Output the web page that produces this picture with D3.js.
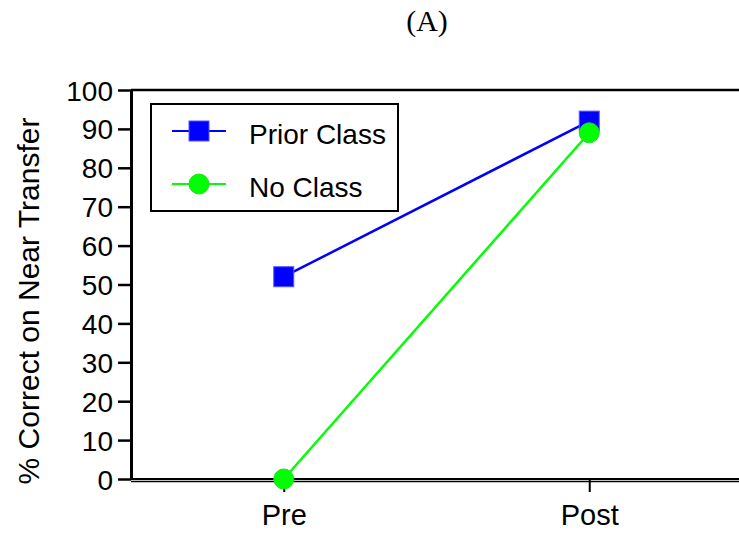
<!DOCTYPE html>
<html>
<head>
<meta charset="utf-8">
<script src="https://cdn.jsdelivr.net/npm/d3@7"></script>
<style>
  html, body { margin: 0; padding: 0; background: #fff; }
  svg { display: block; }
</style>
</head>
<body>
<svg id="chart" width="739" height="535"></svg>
<script>
const categories = ["Pre", "Post"];
const priorClass = [52, 92];
const noClass = [0, 89];
const yTicks = [0, 10, 20, 30, 40, 50, 60, 70, 80, 90, 100];
const seriesNames = ["Prior Class", "No Class"];

const svg = d3.select("#chart");
const W = 739, H = 535;
const x = d3.scalePoint().domain(categories).range([131, 742]).padding(0.5);
const y = d3.scaleLinear().domain([0, 100]).range([479, 90]);
const font = "'Liberation Sans', Arial, Helvetica, sans-serif";

// title
svg.append("text").attr("x", 427).attr("y", 31).attr("text-anchor", "middle")
  .style("font-family", "'Liberation Serif', 'Times New Roman', Times, serif").style("font-size", "30px")
  .text("(A)");

// top frame line
svg.append("line").attr("x1", 131).attr("x2", W).attr("y1", y(100)).attr("y2", y(100))
  .attr("stroke", "#000").attr("stroke-width", 2.5);

// y axis
const yAxis = svg.append("g").attr("transform", "translate(131,0)")
  .call(d3.axisLeft(y).tickValues(yTicks).tickSize(13).tickPadding(5).tickSizeOuter(0));
yAxis.select(".domain").attr("stroke-width", 3);
yAxis.selectAll(".tick line").attr("stroke-width", 2.5);
yAxis.selectAll(".tick text").style("font-family", font).style("font-size", "28px").attr("fill", "#000").attr("dy", "0.36em");

// x axis (double line)
const xAxis = svg.append("g").attr("transform", `translate(0,${y(0)})`)
  .call(d3.axisBottom(x).tickSize(13).tickPadding(12).tickSizeOuter(0));
xAxis.select(".domain").attr("d", `M131,0H${W}`).attr("stroke-width", 2);
xAxis.selectAll(".tick line").attr("stroke-width", 2);
xAxis.selectAll(".tick text").style("font-family", font).style("font-size", "29px").attr("fill", "#000");
svg.append("line").attr("x1", 131).attr("x2", W).attr("y1", y(0) + 2.5).attr("y2", y(0) + 2.5)
  .attr("stroke", "#000").attr("stroke-width", 1.5);

// y label
svg.append("text").attr("transform", "translate(39,301) rotate(-90)").attr("text-anchor", "middle")
  .style("font-family", font).style("font-size", "30px").text("% Correct on Near Transfer");

// lines
const line = d3.line().x((d, i) => x(categories[i])).y(d => y(d));
svg.append("path").datum(priorClass).attr("d", line).attr("fill", "none").attr("stroke", "#0000ff").attr("stroke-width", 2.5);
svg.selectAll(".sq").data(priorClass).enter().append("rect")
  .attr("x", (d, i) => x(categories[i]) - 10).attr("y", d => y(d) - 10)
  .attr("width", 20).attr("height", 20).attr("fill", "#0000ff").attr("stroke", "#5555ff").attr("stroke-width", 1);
svg.append("path").datum(noClass).attr("d", line).attr("fill", "none").attr("stroke", "#00ff00").attr("stroke-width", 2.5);
svg.selectAll(".ci").data(noClass).enter().append("circle")
  .attr("cx", (d, i) => x(categories[i])).attr("cy", d => y(d)).attr("r", 10)
  .attr("fill", "#00ff00").attr("stroke", "#22dd22").attr("stroke-width", 1);

// legend
const lg = svg.append("g");
lg.append("rect").attr("x", 151).attr("y", 104).attr("width", 247).attr("height", 107)
  .attr("fill", "#fff").attr("stroke", "#000").attr("stroke-width", 2);
const rows = [131, 184];
const colors = ["#0000ff", "#00ff00"];
seriesNames.forEach((name, i) => {
  const cy = rows[i];
  lg.append("line").attr("x1", 172).attr("x2", 226).attr("y1", cy).attr("y2", cy)
    .attr("stroke", colors[i]).attr("stroke-width", 2);
  if (i === 0) {
    lg.append("rect").attr("x", 189).attr("y", cy - 10).attr("width", 20).attr("height", 20)
      .attr("fill", colors[i]).attr("stroke", "#5555ff").attr("stroke-width", 1);
  } else {
    lg.append("circle").attr("cx", 199).attr("cy", cy).attr("r", 10)
      .attr("fill", colors[i]).attr("stroke", "#22dd22").attr("stroke-width", 1);
  }
  lg.append("text").attr("x", 249).attr("y", cy + 13).style("font-family", font).style("font-size", "28px").text(name);
});
</script>
</body>
</html>
